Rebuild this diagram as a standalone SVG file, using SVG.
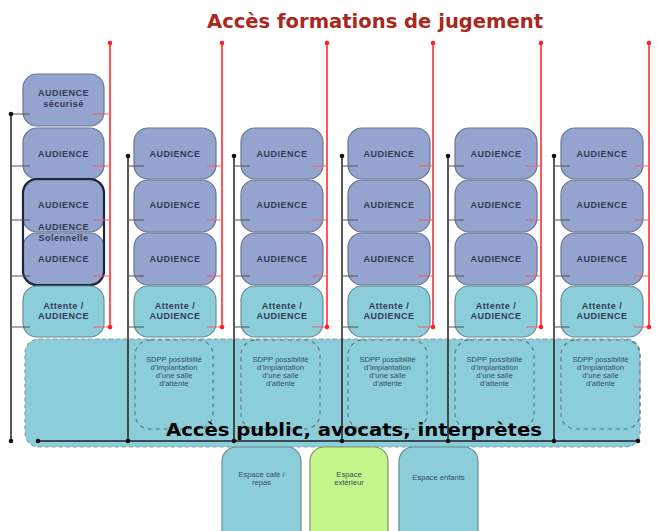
<svg xmlns="http://www.w3.org/2000/svg" width="657" height="531" viewBox="0 0 657 531">
<style>
.aud{fill:#95A3CF;stroke:#6b7690;stroke-width:1.2}
.att{fill:#8BCDD9;stroke:#6b8c96;stroke-width:1.2}
.t{font-family:"Liberation Sans",Arial,sans-serif;font-size:9px;font-weight:bold;letter-spacing:0.5px;fill:#323a58;text-anchor:middle}
.s{font-family:"Liberation Sans",Arial,sans-serif;font-size:7.6px;fill:#34505e;text-anchor:middle}
.e{font-family:"Liberation Sans",Arial,sans-serif;font-size:7.6px;fill:#34505e;text-anchor:middle}
.bl{stroke:#222;stroke-width:1.5;fill:none}
.bt{stroke:#555;stroke-width:1.2;fill:none}
.rl{stroke:#ff2020;stroke-width:1.5;fill:none}
.rt{stroke:#f06060;stroke-width:1.2;fill:none}
.sd{fill:none;stroke:#5e7880;stroke-width:1.1;stroke-dasharray:4,4}
</style>
<text x="375" y="28" font-family="'DejaVu Sans','Liberation Sans',sans-serif" font-size="19" font-weight="bold" fill="#A8281E" text-anchor="middle" textLength="336" lengthAdjust="spacingAndGlyphs">Accès formations de jugement</text>

<g id="publicArea">
<rect x="25" y="339" width="615" height="108" rx="14" fill="#8BCDD9" stroke="#8a9ca2" stroke-width="1.2" stroke-dasharray="4,3"/>
</g>

<g id="col1">
<rect class="aud" x="23" y="74" width="81" height="52" rx="14"/>
<text class="t" x="63.5" y="96">AUDIENCE</text>
<text class="t" x="63.5" y="107">sécurisé</text>
<rect class="aud" x="23" y="128" width="81" height="51" rx="14"/>
<text class="t" x="63.5" y="157">AUDIENCE</text>
<rect class="aud" x="23" y="180" width="81" height="52" rx="14"/>
<text class="t" x="63.5" y="208">AUDIENCE</text>
<rect class="aud" x="23" y="233" width="81" height="52" rx="14"/>
<text class="t" x="63.5" y="262">AUDIENCE</text>
<rect x="23" y="179" width="81" height="106" rx="14" fill="none" stroke="#1c2440" stroke-width="2.2"/>
<text class="t" x="63.5" y="230">AUDIENCE</text>
<text class="t" x="63.5" y="241" font-weight="normal">Solennelle</text>
<rect class="att" x="23" y="286" width="81" height="51" rx="14"/>
<text class="t" x="63.5" y="309">Attente /</text>
<text class="t" x="63.5" y="319">AUDIENCE</text>
</g>

<g id="col2">
<rect class="aud" x="134" y="128" width="82" height="51" rx="14"/><text class="t" x="175" y="157">AUDIENCE</text>
<rect class="aud" x="134" y="180" width="82" height="52" rx="14"/><text class="t" x="175" y="208">AUDIENCE</text>
<rect class="aud" x="134" y="233" width="82" height="52" rx="14"/><text class="t" x="175" y="262">AUDIENCE</text>
<rect class="att" x="134" y="286" width="82" height="51" rx="14"/><text class="t" x="175" y="309">Attente /</text><text class="t" x="175" y="319">AUDIENCE</text>
<rect class="sd" x="135" y="340" width="78" height="89" rx="15"/>
<text class="s" x="174" y="362">SDPP possibilité</text><text class="s" x="174" y="370">d’implantation</text><text class="s" x="174" y="378">d’une salle</text><text class="s" x="174" y="386">d’attente</text>
</g>

<g id="col3">
<rect class="aud" x="241" y="128" width="82" height="51" rx="14"/><text class="t" x="282" y="157">AUDIENCE</text>
<rect class="aud" x="241" y="180" width="82" height="52" rx="14"/><text class="t" x="282" y="208">AUDIENCE</text>
<rect class="aud" x="241" y="233" width="82" height="52" rx="14"/><text class="t" x="282" y="262">AUDIENCE</text>
<rect class="att" x="241" y="286" width="82" height="51" rx="14"/><text class="t" x="282" y="309">Attente /</text><text class="t" x="282" y="319">AUDIENCE</text>
<rect class="sd" x="241" y="340" width="79" height="89" rx="15"/>
<text class="s" x="280.5" y="362">SDPP possibilité</text><text class="s" x="280.5" y="370">d’implantation</text><text class="s" x="280.5" y="378">d’une salle</text><text class="s" x="280.5" y="386">d’attente</text>
</g>

<g id="col4">
<rect class="aud" x="348" y="128" width="82" height="51" rx="14"/><text class="t" x="389" y="157">AUDIENCE</text>
<rect class="aud" x="348" y="180" width="82" height="52" rx="14"/><text class="t" x="389" y="208">AUDIENCE</text>
<rect class="aud" x="348" y="233" width="82" height="52" rx="14"/><text class="t" x="389" y="262">AUDIENCE</text>
<rect class="att" x="348" y="286" width="82" height="51" rx="14"/><text class="t" x="389" y="309">Attente /</text><text class="t" x="389" y="319">AUDIENCE</text>
<rect class="sd" x="348" y="340" width="79" height="89" rx="15"/>
<text class="s" x="387.5" y="362">SDPP possibilité</text><text class="s" x="387.5" y="370">d’implantation</text><text class="s" x="387.5" y="378">d’une salle</text><text class="s" x="387.5" y="386">d’attente</text>
</g>

<g id="col5">
<rect class="aud" x="455" y="128" width="82" height="51" rx="14"/><text class="t" x="496" y="157">AUDIENCE</text>
<rect class="aud" x="455" y="180" width="82" height="52" rx="14"/><text class="t" x="496" y="208">AUDIENCE</text>
<rect class="aud" x="455" y="233" width="82" height="52" rx="14"/><text class="t" x="496" y="262">AUDIENCE</text>
<rect class="att" x="455" y="286" width="82" height="51" rx="14"/><text class="t" x="496" y="309">Attente /</text><text class="t" x="496" y="319">AUDIENCE</text>
<rect class="sd" x="455" y="340" width="79" height="89" rx="15"/>
<text class="s" x="494.5" y="362">SDPP possibilité</text><text class="s" x="494.5" y="370">d’implantation</text><text class="s" x="494.5" y="378">d’une salle</text><text class="s" x="494.5" y="386">d’attente</text>
</g>

<g id="col6">
<rect class="aud" x="561" y="128" width="82" height="51" rx="14"/><text class="t" x="602" y="157">AUDIENCE</text>
<rect class="aud" x="561" y="180" width="82" height="52" rx="14"/><text class="t" x="602" y="208">AUDIENCE</text>
<rect class="aud" x="561" y="233" width="82" height="52" rx="14"/><text class="t" x="602" y="262">AUDIENCE</text>
<rect class="att" x="561" y="286" width="82" height="51" rx="14"/><text class="t" x="602" y="309">Attente /</text><text class="t" x="602" y="319">AUDIENCE</text>
<rect class="sd" x="561" y="340" width="79" height="89" rx="15"/>
<text class="s" x="600.5" y="362">SDPP possibilité</text><text class="s" x="600.5" y="370">d’implantation</text><text class="s" x="600.5" y="378">d’une salle</text><text class="s" x="600.5" y="386">d’attente</text>
</g>

<g id="bottomBoxes">
<g id="cafe"><rect x="222" y="447" width="79" height="100" rx="14" fill="#8BCDD9" stroke="#6b8c96" stroke-width="1.2"/>
<text class="e" x="261.5" y="477">Espace café /</text><text class="e" x="261.5" y="485">repas</text></g>
<g id="exterieur"><rect x="310" y="447" width="78" height="100" rx="14" fill="#C6F58C" stroke="#7a9a6a" stroke-width="1.2"/>
<text class="e" x="349" y="477">Espace</text><text class="e" x="349" y="485">extérieur</text></g>
<g id="enfants"><rect x="399" y="447" width="79" height="100" rx="14" fill="#8BCDD9" stroke="#6b8c96" stroke-width="1.2"/>
<text class="e" x="438.5" y="480">Espace enfants</text></g>
</g>

<text x="354" y="436" font-family="'DejaVu Sans','Liberation Sans',sans-serif" font-size="18" font-weight="bold" fill="#000" text-anchor="middle" textLength="376" lengthAdjust="spacingAndGlyphs">Accès public, avocats, interprètes</text>

<g id="connectors">
<path class="bl" d="M11 114V441M128 156V441M234 156V441M342 156V441M448 156V441M554 156V441M38 441H638"/>
<path class="bt" d="M11 114H30M11 166H30M11 220H30M11 276H30M11 327H30
M128 166H144M128 220H144M128 276H144M128 327H144
M234 166H250M234 220H250M234 276H250M234 327H250
M342 166H358M342 220H358M342 276H358M342 327H358
M448 166H464M448 220H464M448 276H464M448 327H464
M554 166H570M554 220H570M554 276H570M554 327H570"/>
<g fill="#111">
<circle cx="11" cy="114" r="2.3"/><circle cx="11" cy="441" r="2.3"/>
<circle cx="128" cy="156" r="2.3"/><circle cx="234" cy="156" r="2.3"/><circle cx="342" cy="156" r="2.3"/><circle cx="448" cy="156" r="2.3"/><circle cx="554" cy="156" r="2.3"/>
<circle cx="38" cy="441" r="2.3"/><circle cx="128" cy="441" r="2.3"/><circle cx="234" cy="441" r="2.3"/><circle cx="342" cy="441" r="2.3"/><circle cx="448" cy="441" r="2.3"/><circle cx="554" cy="441" r="2.3"/><circle cx="638" cy="441" r="2.3"/>
</g>
<path class="rl" d="M110 43V327M222 43V327M327 43V327M433 43V327M541 43V327M649 43V327"/>
<path class="rt" d="M93 114H110M93 166H110M93 220H110M93 276H110M93 327H110
M207 166H222M207 220H222M207 276H222M207 327H222
M312 166H327M312 220H327M312 276H327M312 327H327
M418 166H433M418 220H433M418 276H433M418 327H433
M526 166H541M526 220H541M526 276H541M526 327H541
M634 166H649M634 220H649M634 276H649M634 327H649"/>
<g fill="#ff2020">
<circle cx="110" cy="43" r="2.3"/><circle cx="222" cy="43" r="2.3"/><circle cx="327" cy="43" r="2.3"/><circle cx="433" cy="43" r="2.3"/><circle cx="541" cy="43" r="2.3"/><circle cx="649" cy="43" r="2.3"/>
<circle cx="110" cy="327" r="2.3"/><circle cx="222" cy="327" r="2.3"/><circle cx="327" cy="327" r="2.3"/><circle cx="433" cy="327" r="2.3"/><circle cx="541" cy="327" r="2.3"/><circle cx="649" cy="327" r="2.3"/>
</g>
</g>
</svg>
